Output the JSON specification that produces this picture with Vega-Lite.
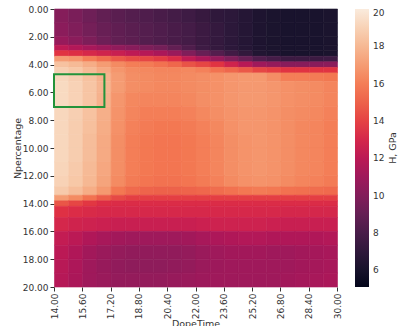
{
"$schema": "https://vega.github.io/schema/vega-lite/v6.json",
"width": 283, "height": 278,
"padding": {"left": 12, "top": 5, "right": 5, "bottom": 5},
"config": {"view": {"stroke": null}, "font": "DejaVu Sans",
 "axis": {"labelFont": "DejaVu Sans", "labelFontSize": 9, "labelColor": "#333", "tickColor": "#333", "tickSize": 4, "domain": false, "grid": false, "titleFont": "DejaVu Sans", "titleFontSize": 9.5, "titleFontWeight": "normal", "titleColor": "#333"},
 "legend": {"labelFont": "DejaVu Sans", "labelFontSize": 9, "labelColor": "#333", "titleFont": "DejaVu Sans", "titleFontSize": 9.5, "titleFontWeight": "normal", "titleColor": "#333"}},
"layer": [
{"data": {"values": [
{"t":14,"n":0,"n2":1,"h":10.1},{"t":14.8,"n":0,"n2":1,"h":9.7},{"t":15.6,"n":0,"n2":1,"h":9.3},{"t":16.4,"n":0,"n2":1,"h":8.9},{"t":17.2,"n":0,"n2":1,"h":8.6},{"t":18,"n":0,"n2":1,"h":8.4},{"t":18.8,"n":0,"n2":1,"h":8.2},{"t":19.6,"n":0,"n2":1,"h":8.0},{"t":20.4,"n":0,"n2":1,"h":7.8},{"t":21.2,"n":0,"n2":1,"h":7.6},{"t":22,"n":0,"n2":1,"h":7.3},{"t":22.8,"n":0,"n2":1,"h":7.0},{"t":23.6,"n":0,"n2":1,"h":6.9},{"t":24.4,"n":0,"n2":1,"h":6.6},{"t":25.2,"n":0,"n2":1,"h":6.3},{"t":26,"n":0,"n2":1,"h":6.2},{"t":26.8,"n":0,"n2":1,"h":6.1},{"t":27.6,"n":0,"n2":1,"h":6.1},{"t":28.4,"n":0,"n2":1,"h":6.1},{"t":29.2,"n":0,"n2":1,"h":6.2},
{"t":14,"n":1,"n2":2,"h":10.3},{"t":14.8,"n":1,"n2":2,"h":9.9},{"t":15.6,"n":1,"n2":2,"h":9.5},{"t":16.4,"n":1,"n2":2,"h":9.1},{"t":17.2,"n":1,"n2":2,"h":8.8},{"t":18,"n":1,"n2":2,"h":8.6},{"t":18.8,"n":1,"n2":2,"h":8.4},{"t":19.6,"n":1,"n2":2,"h":8.2},{"t":20.4,"n":1,"n2":2,"h":8.0},{"t":21.2,"n":1,"n2":2,"h":7.8},{"t":22,"n":1,"n2":2,"h":7.5},{"t":22.8,"n":1,"n2":2,"h":7.2},{"t":23.6,"n":1,"n2":2,"h":6.9},{"t":24.4,"n":1,"n2":2,"h":6.6},{"t":25.2,"n":1,"n2":2,"h":6.3},{"t":26,"n":1,"n2":2,"h":6.2},{"t":26.8,"n":1,"n2":2,"h":6.1},{"t":27.6,"n":1,"n2":2,"h":6.1},{"t":28.4,"n":1,"n2":2,"h":6.1},{"t":29.2,"n":1,"n2":2,"h":6.2},
{"t":14,"n":2,"n2":2.6,"h":10.7},{"t":14.8,"n":2,"n2":2.6,"h":10.3},{"t":15.6,"n":2,"n2":2.6,"h":9.8},{"t":16.4,"n":2,"n2":2.6,"h":9.3},{"t":17.2,"n":2,"n2":2.6,"h":8.9},{"t":18,"n":2,"n2":2.6,"h":8.7},{"t":18.8,"n":2,"n2":2.6,"h":8.4},{"t":19.6,"n":2,"n2":2.6,"h":8.2},{"t":20.4,"n":2,"n2":2.6,"h":8.0},{"t":21.2,"n":2,"n2":2.6,"h":7.8},{"t":22,"n":2,"n2":2.6,"h":7.5},{"t":22.8,"n":2,"n2":2.6,"h":7.2},{"t":23.6,"n":2,"n2":2.6,"h":6.9},{"t":24.4,"n":2,"n2":2.6,"h":6.6},{"t":25.2,"n":2,"n2":2.6,"h":6.3},{"t":26,"n":2,"n2":2.6,"h":6.2},{"t":26.8,"n":2,"n2":2.6,"h":6.1},{"t":27.6,"n":2,"n2":2.6,"h":6.1},{"t":28.4,"n":2,"n2":2.6,"h":6.1},{"t":29.2,"n":2,"n2":2.6,"h":6.2},
{"t":14,"n":2.6,"n2":3,"h":12.1},{"t":14.8,"n":2.6,"n2":3,"h":11.7},{"t":15.6,"n":2.6,"n2":3,"h":11.3},{"t":16.4,"n":2.6,"n2":3,"h":10.9},{"t":17.2,"n":2.6,"n2":3,"h":10.5},{"t":18,"n":2.6,"n2":3,"h":10.2},{"t":18.8,"n":2.6,"n2":3,"h":9.8},{"t":19.6,"n":2.6,"n2":3,"h":9.5},{"t":20.4,"n":2.6,"n2":3,"h":8.9},{"t":21.2,"n":2.6,"n2":3,"h":8.2},{"t":22,"n":2.6,"n2":3,"h":7.6},{"t":22.8,"n":2.6,"n2":3,"h":7.2},{"t":23.6,"n":2.6,"n2":3,"h":6.9},{"t":24.4,"n":2.6,"n2":3,"h":6.6},{"t":25.2,"n":2.6,"n2":3,"h":6.3},{"t":26,"n":2.6,"n2":3,"h":6.2},{"t":26.8,"n":2.6,"n2":3,"h":6.1},{"t":27.6,"n":2.6,"n2":3,"h":6.1},{"t":28.4,"n":2.6,"n2":3,"h":6.1},{"t":29.2,"n":2.6,"n2":3,"h":6.2},
{"t":14,"n":3,"n2":3.4,"h":13.6},{"t":14.8,"n":3,"n2":3.4,"h":13.4},{"t":15.6,"n":3,"n2":3.4,"h":13.1},{"t":16.4,"n":3,"n2":3.4,"h":12.8},{"t":17.2,"n":3,"n2":3.4,"h":12.5},{"t":18,"n":3,"n2":3.4,"h":12.1},{"t":18.8,"n":3,"n2":3.4,"h":11.8},{"t":19.6,"n":3,"n2":3.4,"h":11.4},{"t":20.4,"n":3,"n2":3.4,"h":10.8},{"t":21.2,"n":3,"n2":3.4,"h":9.9},{"t":22,"n":3,"n2":3.4,"h":9.1},{"t":22.8,"n":3,"n2":3.4,"h":8.4},{"t":23.6,"n":3,"n2":3.4,"h":7.7},{"t":24.4,"n":3,"n2":3.4,"h":7.1},{"t":25.2,"n":3,"n2":3.4,"h":6.5},{"t":26,"n":3,"n2":3.4,"h":6.3},{"t":26.8,"n":3,"n2":3.4,"h":6.1},{"t":27.6,"n":3,"n2":3.4,"h":6.1},{"t":28.4,"n":3,"n2":3.4,"h":6.1},{"t":29.2,"n":3,"n2":3.4,"h":6.2},
{"t":14,"n":3.4,"n2":3.8,"h":17.0},{"t":14.8,"n":3.4,"n2":3.8,"h":16.8},{"t":15.6,"n":3.4,"n2":3.8,"h":16.0},{"t":16.4,"n":3.4,"n2":3.8,"h":15.4},{"t":17.2,"n":3.4,"n2":3.8,"h":14.7},{"t":18,"n":3.4,"n2":3.8,"h":14.3},{"t":18.8,"n":3.4,"n2":3.8,"h":14.1},{"t":19.6,"n":3.4,"n2":3.8,"h":13.8},{"t":20.4,"n":3.4,"n2":3.8,"h":13.3},{"t":21.2,"n":3.4,"n2":3.8,"h":12.2},{"t":22,"n":3.4,"n2":3.8,"h":11.5},{"t":22.8,"n":3.4,"n2":3.8,"h":10.7},{"t":23.6,"n":3.4,"n2":3.8,"h":9.9},{"t":24.4,"n":3.4,"n2":3.8,"h":9.1},{"t":25.2,"n":3.4,"n2":3.8,"h":8.3},{"t":26,"n":3.4,"n2":3.8,"h":7.9},{"t":26.8,"n":3.4,"n2":3.8,"h":7.5},{"t":27.6,"n":3.4,"n2":3.8,"h":7.5},{"t":28.4,"n":3.4,"n2":3.8,"h":7.5},{"t":29.2,"n":3.4,"n2":3.8,"h":7.6},
{"t":14,"n":3.8,"n2":4.2,"h":18.4},{"t":14.8,"n":3.8,"n2":4.2,"h":18.1},{"t":15.6,"n":3.8,"n2":4.2,"h":17.6},{"t":16.4,"n":3.8,"n2":4.2,"h":17.0},{"t":17.2,"n":3.8,"n2":4.2,"h":16.4},{"t":18,"n":3.8,"n2":4.2,"h":16.0},{"t":18.8,"n":3.8,"n2":4.2,"h":15.9},{"t":19.6,"n":3.8,"n2":4.2,"h":15.6},{"t":20.4,"n":3.8,"n2":4.2,"h":15.2},{"t":21.2,"n":3.8,"n2":4.2,"h":14.5},{"t":22,"n":3.8,"n2":4.2,"h":14.1},{"t":22.8,"n":3.8,"n2":4.2,"h":13.6},{"t":23.6,"n":3.8,"n2":4.2,"h":12.8},{"t":24.4,"n":3.8,"n2":4.2,"h":11.9},{"t":25.2,"n":3.8,"n2":4.2,"h":11.0},{"t":26,"n":3.8,"n2":4.2,"h":10.6},{"t":26.8,"n":3.8,"n2":4.2,"h":10.2},{"t":27.6,"n":3.8,"n2":4.2,"h":10.2},{"t":28.4,"n":3.8,"n2":4.2,"h":10.2},{"t":29.2,"n":3.8,"n2":4.2,"h":10.3},
{"t":14,"n":4.2,"n2":4.6,"h":18.9},{"t":14.8,"n":4.2,"n2":4.6,"h":18.6},{"t":15.6,"n":4.2,"n2":4.6,"h":18.1},{"t":16.4,"n":4.2,"n2":4.6,"h":17.5},{"t":17.2,"n":4.2,"n2":4.6,"h":16.8},{"t":18,"n":4.2,"n2":4.6,"h":16.4},{"t":18.8,"n":4.2,"n2":4.6,"h":16.3},{"t":19.6,"n":4.2,"n2":4.6,"h":16.2},{"t":20.4,"n":4.2,"n2":4.6,"h":16.2},{"t":21.2,"n":4.2,"n2":4.6,"h":16.3},{"t":22,"n":4.2,"n2":4.6,"h":16.1},{"t":22.8,"n":4.2,"n2":4.6,"h":15.6},{"t":23.6,"n":4.2,"n2":4.6,"h":15.2},{"t":24.4,"n":4.2,"n2":4.6,"h":14.7},{"t":25.2,"n":4.2,"n2":4.6,"h":14.1},{"t":26,"n":4.2,"n2":4.6,"h":13.9},{"t":26.8,"n":4.2,"n2":4.6,"h":13.6},{"t":27.6,"n":4.2,"n2":4.6,"h":13.6},{"t":28.4,"n":4.2,"n2":4.6,"h":13.6},{"t":29.2,"n":4.2,"n2":4.6,"h":13.6},
{"t":14,"n":4.6,"n2":5.2,"h":19.2},{"t":14.8,"n":4.6,"n2":5.2,"h":18.9},{"t":15.6,"n":4.6,"n2":5.2,"h":18.4},{"t":16.4,"n":4.6,"n2":5.2,"h":17.8},{"t":17.2,"n":4.6,"n2":5.2,"h":17.0},{"t":18,"n":4.6,"n2":5.2,"h":16.5},{"t":18.8,"n":4.6,"n2":5.2,"h":16.4},{"t":19.6,"n":4.6,"n2":5.2,"h":16.3},{"t":20.4,"n":4.6,"n2":5.2,"h":16.3},{"t":21.2,"n":4.6,"n2":5.2,"h":16.4},{"t":22,"n":4.6,"n2":5.2,"h":16.5},{"t":22.8,"n":4.6,"n2":5.2,"h":16.6},{"t":23.6,"n":4.6,"n2":5.2,"h":16.8},{"t":24.4,"n":4.6,"n2":5.2,"h":16.9},{"t":25.2,"n":4.6,"n2":5.2,"h":16.9},{"t":26,"n":4.6,"n2":5.2,"h":16.5},{"t":26.8,"n":4.6,"n2":5.2,"h":16.0},{"t":27.6,"n":4.6,"n2":5.2,"h":16.0},{"t":28.4,"n":4.6,"n2":5.2,"h":15.9},{"t":29.2,"n":4.6,"n2":5.2,"h":15.8},
{"t":14,"n":5.2,"n2":6,"h":19.3},{"t":14.8,"n":5.2,"n2":6,"h":19.0},{"t":15.6,"n":5.2,"n2":6,"h":18.5},{"t":16.4,"n":5.2,"n2":6,"h":17.9},{"t":17.2,"n":5.2,"n2":6,"h":17.0},{"t":18,"n":5.2,"n2":6,"h":16.5},{"t":18.8,"n":5.2,"n2":6,"h":16.4},{"t":19.6,"n":5.2,"n2":6,"h":16.3},{"t":20.4,"n":5.2,"n2":6,"h":16.3},{"t":21.2,"n":5.2,"n2":6,"h":16.4},{"t":22,"n":5.2,"n2":6,"h":16.5},{"t":22.8,"n":5.2,"n2":6,"h":16.6},{"t":23.6,"n":5.2,"n2":6,"h":16.8},{"t":24.4,"n":5.2,"n2":6,"h":16.9},{"t":25.2,"n":5.2,"n2":6,"h":16.9},{"t":26,"n":5.2,"n2":6,"h":16.8},{"t":26.8,"n":5.2,"n2":6,"h":16.6},{"t":27.6,"n":5.2,"n2":6,"h":16.5},{"t":28.4,"n":5.2,"n2":6,"h":16.4},{"t":29.2,"n":5.2,"n2":6,"h":16.2},
{"t":14,"n":6,"n2":7,"h":19.3},{"t":14.8,"n":6,"n2":7,"h":19.0},{"t":15.6,"n":6,"n2":7,"h":18.5},{"t":16.4,"n":6,"n2":7,"h":17.8},{"t":17.2,"n":6,"n2":7,"h":16.8},{"t":18,"n":6,"n2":7,"h":16.3},{"t":18.8,"n":6,"n2":7,"h":16.2},{"t":19.6,"n":6,"n2":7,"h":16.2},{"t":20.4,"n":6,"n2":7,"h":16.2},{"t":21.2,"n":6,"n2":7,"h":16.3},{"t":22,"n":6,"n2":7,"h":16.5},{"t":22.8,"n":6,"n2":7,"h":16.6},{"t":23.6,"n":6,"n2":7,"h":16.8},{"t":24.4,"n":6,"n2":7,"h":16.9},{"t":25.2,"n":6,"n2":7,"h":16.9},{"t":26,"n":6,"n2":7,"h":16.8},{"t":26.8,"n":6,"n2":7,"h":16.6},{"t":27.6,"n":6,"n2":7,"h":16.5},{"t":28.4,"n":6,"n2":7,"h":16.4},{"t":29.2,"n":6,"n2":7,"h":16.2},
{"t":14,"n":7,"n2":8,"h":19.2},{"t":14.8,"n":7,"n2":8,"h":18.9},{"t":15.6,"n":7,"n2":8,"h":18.4},{"t":16.4,"n":7,"n2":8,"h":17.7},{"t":17.2,"n":7,"n2":8,"h":16.7},{"t":18,"n":7,"n2":8,"h":16.2},{"t":18.8,"n":7,"n2":8,"h":16.0},{"t":19.6,"n":7,"n2":8,"h":16.0},{"t":20.4,"n":7,"n2":8,"h":16.0},{"t":21.2,"n":7,"n2":8,"h":16.1},{"t":22,"n":7,"n2":8,"h":16.3},{"t":22.8,"n":7,"n2":8,"h":16.5},{"t":23.6,"n":7,"n2":8,"h":16.7},{"t":24.4,"n":7,"n2":8,"h":16.8},{"t":25.2,"n":7,"n2":8,"h":16.8},{"t":26,"n":7,"n2":8,"h":16.7},{"t":26.8,"n":7,"n2":8,"h":16.5},{"t":27.6,"n":7,"n2":8,"h":16.4},{"t":28.4,"n":7,"n2":8,"h":16.3},{"t":29.2,"n":7,"n2":8,"h":16.1},
{"t":14,"n":8,"n2":9,"h":19.2},{"t":14.8,"n":8,"n2":9,"h":18.8},{"t":15.6,"n":8,"n2":9,"h":18.3},{"t":16.4,"n":8,"n2":9,"h":17.6},{"t":17.2,"n":8,"n2":9,"h":16.6},{"t":18,"n":8,"n2":9,"h":16.1},{"t":18.8,"n":8,"n2":9,"h":15.9},{"t":19.6,"n":8,"n2":9,"h":15.8},{"t":20.4,"n":8,"n2":9,"h":15.8},{"t":21.2,"n":8,"n2":9,"h":15.9},{"t":22,"n":8,"n2":9,"h":16.1},{"t":22.8,"n":8,"n2":9,"h":16.3},{"t":23.6,"n":8,"n2":9,"h":16.6},{"t":24.4,"n":8,"n2":9,"h":16.8},{"t":25.2,"n":8,"n2":9,"h":16.8},{"t":26,"n":8,"n2":9,"h":16.7},{"t":26.8,"n":8,"n2":9,"h":16.5},{"t":27.6,"n":8,"n2":9,"h":16.3},{"t":28.4,"n":8,"n2":9,"h":16.2},{"t":29.2,"n":8,"n2":9,"h":16.0},
{"t":14,"n":9,"n2":10,"h":19.2},{"t":14.8,"n":9,"n2":10,"h":18.8},{"t":15.6,"n":9,"n2":10,"h":18.2},{"t":16.4,"n":9,"n2":10,"h":17.5},{"t":17.2,"n":9,"n2":10,"h":16.5},{"t":18,"n":9,"n2":10,"h":16.0},{"t":18.8,"n":9,"n2":10,"h":15.8},{"t":19.6,"n":9,"n2":10,"h":15.7},{"t":20.4,"n":9,"n2":10,"h":15.7},{"t":21.2,"n":9,"n2":10,"h":15.8},{"t":22,"n":9,"n2":10,"h":16.0},{"t":22.8,"n":9,"n2":10,"h":16.2},{"t":23.6,"n":9,"n2":10,"h":16.5},{"t":24.4,"n":9,"n2":10,"h":16.7},{"t":25.2,"n":9,"n2":10,"h":16.8},{"t":26,"n":9,"n2":10,"h":16.7},{"t":26.8,"n":9,"n2":10,"h":16.5},{"t":27.6,"n":9,"n2":10,"h":16.3},{"t":28.4,"n":9,"n2":10,"h":16.2},{"t":29.2,"n":9,"n2":10,"h":16.0},
{"t":14,"n":10,"n2":11,"h":19.2},{"t":14.8,"n":10,"n2":11,"h":18.8},{"t":15.6,"n":10,"n2":11,"h":18.2},{"t":16.4,"n":10,"n2":11,"h":17.5},{"t":17.2,"n":10,"n2":11,"h":16.5},{"t":18,"n":10,"n2":11,"h":16.0},{"t":18.8,"n":10,"n2":11,"h":15.8},{"t":19.6,"n":10,"n2":11,"h":15.7},{"t":20.4,"n":10,"n2":11,"h":15.7},{"t":21.2,"n":10,"n2":11,"h":15.8},{"t":22,"n":10,"n2":11,"h":16.0},{"t":22.8,"n":10,"n2":11,"h":16.2},{"t":23.6,"n":10,"n2":11,"h":16.5},{"t":24.4,"n":10,"n2":11,"h":16.7},{"t":25.2,"n":10,"n2":11,"h":16.8},{"t":26,"n":10,"n2":11,"h":16.7},{"t":26.8,"n":10,"n2":11,"h":16.5},{"t":27.6,"n":10,"n2":11,"h":16.3},{"t":28.4,"n":10,"n2":11,"h":16.2},{"t":29.2,"n":10,"n2":11,"h":16.0},
{"t":14,"n":11,"n2":12,"h":19.1},{"t":14.8,"n":11,"n2":12,"h":18.7},{"t":15.6,"n":11,"n2":12,"h":18.1},{"t":16.4,"n":11,"n2":12,"h":17.4},{"t":17.2,"n":11,"n2":12,"h":16.5},{"t":18,"n":11,"n2":12,"h":16.0},{"t":18.8,"n":11,"n2":12,"h":15.8},{"t":19.6,"n":11,"n2":12,"h":15.7},{"t":20.4,"n":11,"n2":12,"h":15.7},{"t":21.2,"n":11,"n2":12,"h":15.8},{"t":22,"n":11,"n2":12,"h":16.0},{"t":22.8,"n":11,"n2":12,"h":16.2},{"t":23.6,"n":11,"n2":12,"h":16.5},{"t":24.4,"n":11,"n2":12,"h":16.7},{"t":25.2,"n":11,"n2":12,"h":16.8},{"t":26,"n":11,"n2":12,"h":16.7},{"t":26.8,"n":11,"n2":12,"h":16.5},{"t":27.6,"n":11,"n2":12,"h":16.3},{"t":28.4,"n":11,"n2":12,"h":16.2},{"t":29.2,"n":11,"n2":12,"h":16.0},
{"t":14,"n":12,"n2":12.8,"h":19.0},{"t":14.8,"n":12,"n2":12.8,"h":18.6},{"t":15.6,"n":12,"n2":12.8,"h":18.0},{"t":16.4,"n":12,"n2":12.8,"h":17.3},{"t":17.2,"n":12,"n2":12.8,"h":16.4},{"t":18,"n":12,"n2":12.8,"h":15.9},{"t":18.8,"n":12,"n2":12.8,"h":15.7},{"t":19.6,"n":12,"n2":12.8,"h":15.6},{"t":20.4,"n":12,"n2":12.8,"h":15.6},{"t":21.2,"n":12,"n2":12.8,"h":15.7},{"t":22,"n":12,"n2":12.8,"h":15.9},{"t":22.8,"n":12,"n2":12.8,"h":16.1},{"t":23.6,"n":12,"n2":12.8,"h":16.4},{"t":24.4,"n":12,"n2":12.8,"h":16.6},{"t":25.2,"n":12,"n2":12.8,"h":16.7},{"t":26,"n":12,"n2":12.8,"h":16.6},{"t":26.8,"n":12,"n2":12.8,"h":16.4},{"t":27.6,"n":12,"n2":12.8,"h":16.2},{"t":28.4,"n":12,"n2":12.8,"h":16.1},{"t":29.2,"n":12,"n2":12.8,"h":15.9},
{"t":14,"n":12.8,"n2":13.4,"h":18.7},{"t":14.8,"n":12.8,"n2":13.4,"h":18.2},{"t":15.6,"n":12.8,"n2":13.4,"h":17.6},{"t":16.4,"n":12.8,"n2":13.4,"h":16.9},{"t":17.2,"n":12.8,"n2":13.4,"h":15.8},{"t":18,"n":12.8,"n2":13.4,"h":15.3},{"t":18.8,"n":12.8,"n2":13.4,"h":15.1},{"t":19.6,"n":12.8,"n2":13.4,"h":15.0},{"t":20.4,"n":12.8,"n2":13.4,"h":15.0},{"t":21.2,"n":12.8,"n2":13.4,"h":15.1},{"t":22,"n":12.8,"n2":13.4,"h":15.2},{"t":22.8,"n":12.8,"n2":13.4,"h":15.4},{"t":23.6,"n":12.8,"n2":13.4,"h":15.6},{"t":24.4,"n":12.8,"n2":13.4,"h":15.8},{"t":25.2,"n":12.8,"n2":13.4,"h":15.9},{"t":26,"n":12.8,"n2":13.4,"h":15.8},{"t":26.8,"n":12.8,"n2":13.4,"h":15.6},{"t":27.6,"n":12.8,"n2":13.4,"h":15.5},{"t":28.4,"n":12.8,"n2":13.4,"h":15.4},{"t":29.2,"n":12.8,"n2":13.4,"h":15.3},
{"t":14,"n":13.4,"n2":13.8,"h":17.0},{"t":14.8,"n":13.4,"n2":13.8,"h":16.4},{"t":15.6,"n":13.4,"n2":13.8,"h":15.6},{"t":16.4,"n":13.4,"n2":13.8,"h":14.8},{"t":17.2,"n":13.4,"n2":13.8,"h":14.2},{"t":18,"n":13.4,"n2":13.8,"h":13.9},{"t":18.8,"n":13.4,"n2":13.8,"h":13.9},{"t":19.6,"n":13.4,"n2":13.8,"h":13.9},{"t":20.4,"n":13.4,"n2":13.8,"h":13.9},{"t":21.2,"n":13.4,"n2":13.8,"h":13.9},{"t":22,"n":13.4,"n2":13.8,"h":13.9},{"t":22.8,"n":13.4,"n2":13.8,"h":13.9},{"t":23.6,"n":13.4,"n2":13.8,"h":13.9},{"t":24.4,"n":13.4,"n2":13.8,"h":13.9},{"t":25.2,"n":13.4,"n2":13.8,"h":13.9},{"t":26,"n":13.4,"n2":13.8,"h":13.9},{"t":26.8,"n":13.4,"n2":13.8,"h":13.9},{"t":27.6,"n":13.4,"n2":13.8,"h":13.9},{"t":28.4,"n":13.4,"n2":13.8,"h":13.9},{"t":29.2,"n":13.4,"n2":13.8,"h":13.9},
{"t":14,"n":13.8,"n2":14.2,"h":14.6},{"t":14.8,"n":13.8,"n2":14.2,"h":14.1},{"t":15.6,"n":13.8,"n2":14.2,"h":13.7},{"t":16.4,"n":13.8,"n2":14.2,"h":13.4},{"t":17.2,"n":13.8,"n2":14.2,"h":13.3},{"t":18,"n":13.8,"n2":14.2,"h":13.3},{"t":18.8,"n":13.8,"n2":14.2,"h":13.3},{"t":19.6,"n":13.8,"n2":14.2,"h":13.3},{"t":20.4,"n":13.8,"n2":14.2,"h":13.3},{"t":21.2,"n":13.8,"n2":14.2,"h":13.3},{"t":22,"n":13.8,"n2":14.2,"h":13.3},{"t":22.8,"n":13.8,"n2":14.2,"h":13.3},{"t":23.6,"n":13.8,"n2":14.2,"h":13.3},{"t":24.4,"n":13.8,"n2":14.2,"h":13.3},{"t":25.2,"n":13.8,"n2":14.2,"h":13.3},{"t":26,"n":13.8,"n2":14.2,"h":13.3},{"t":26.8,"n":13.8,"n2":14.2,"h":13.3},{"t":27.6,"n":13.8,"n2":14.2,"h":13.3},{"t":28.4,"n":13.8,"n2":14.2,"h":13.3},{"t":29.2,"n":13.8,"n2":14.2,"h":13.3},
{"t":14,"n":14.2,"n2":15,"h":13.5},{"t":14.8,"n":14.2,"n2":15,"h":13.3},{"t":15.6,"n":14.2,"n2":15,"h":13.2},{"t":16.4,"n":14.2,"n2":15,"h":13.1},{"t":17.2,"n":14.2,"n2":15,"h":13.1},{"t":18,"n":14.2,"n2":15,"h":13.1},{"t":18.8,"n":14.2,"n2":15,"h":13.1},{"t":19.6,"n":14.2,"n2":15,"h":13.1},{"t":20.4,"n":14.2,"n2":15,"h":13.1},{"t":21.2,"n":14.2,"n2":15,"h":13.1},{"t":22,"n":14.2,"n2":15,"h":13.1},{"t":22.8,"n":14.2,"n2":15,"h":13.1},{"t":23.6,"n":14.2,"n2":15,"h":13.1},{"t":24.4,"n":14.2,"n2":15,"h":13.1},{"t":25.2,"n":14.2,"n2":15,"h":13.1},{"t":26,"n":14.2,"n2":15,"h":13.1},{"t":26.8,"n":14.2,"n2":15,"h":13.0},{"t":27.6,"n":14.2,"n2":15,"h":13.0},{"t":28.4,"n":14.2,"n2":15,"h":13.0},{"t":29.2,"n":14.2,"n2":15,"h":13.0},
{"t":14,"n":15,"n2":16,"h":13.0},{"t":14.8,"n":15,"n2":16,"h":12.8},{"t":15.6,"n":15,"n2":16,"h":12.7},{"t":16.4,"n":15,"n2":16,"h":12.6},{"t":17.2,"n":15,"n2":16,"h":12.5},{"t":18,"n":15,"n2":16,"h":12.5},{"t":18.8,"n":15,"n2":16,"h":12.5},{"t":19.6,"n":15,"n2":16,"h":12.5},{"t":20.4,"n":15,"n2":16,"h":12.5},{"t":21.2,"n":15,"n2":16,"h":12.5},{"t":22,"n":15,"n2":16,"h":12.6},{"t":22.8,"n":15,"n2":16,"h":12.7},{"t":23.6,"n":15,"n2":16,"h":12.7},{"t":24.4,"n":15,"n2":16,"h":12.7},{"t":25.2,"n":15,"n2":16,"h":12.7},{"t":26,"n":15,"n2":16,"h":12.6},{"t":26.8,"n":15,"n2":16,"h":12.5},{"t":27.6,"n":15,"n2":16,"h":12.5},{"t":28.4,"n":15,"n2":16,"h":12.5},{"t":29.2,"n":15,"n2":16,"h":12.5},
{"t":14,"n":16,"n2":17,"h":12.3},{"t":14.8,"n":16,"n2":17,"h":12.0},{"t":15.6,"n":16,"n2":17,"h":11.6},{"t":16.4,"n":16,"n2":17,"h":11.3},{"t":17.2,"n":16,"n2":17,"h":11.1},{"t":18,"n":16,"n2":17,"h":11.0},{"t":18.8,"n":16,"n2":17,"h":11.0},{"t":19.6,"n":16,"n2":17,"h":11.0},{"t":20.4,"n":16,"n2":17,"h":11.0},{"t":21.2,"n":16,"n2":17,"h":11.1},{"t":22,"n":16,"n2":17,"h":11.3},{"t":22.8,"n":16,"n2":17,"h":11.5},{"t":23.6,"n":16,"n2":17,"h":11.6},{"t":24.4,"n":16,"n2":17,"h":11.7},{"t":25.2,"n":16,"n2":17,"h":11.7},{"t":26,"n":16,"n2":17,"h":11.6},{"t":26.8,"n":16,"n2":17,"h":11.6},{"t":27.6,"n":16,"n2":17,"h":11.6},{"t":28.4,"n":16,"n2":17,"h":11.6},{"t":29.2,"n":16,"n2":17,"h":11.7},
{"t":14,"n":17,"n2":18,"h":12.0},{"t":14.8,"n":17,"n2":18,"h":11.6},{"t":15.6,"n":17,"n2":18,"h":11.1},{"t":16.4,"n":17,"n2":18,"h":10.8},{"t":17.2,"n":17,"n2":18,"h":10.6},{"t":18,"n":17,"n2":18,"h":10.5},{"t":18.8,"n":17,"n2":18,"h":10.5},{"t":19.6,"n":17,"n2":18,"h":10.5},{"t":20.4,"n":17,"n2":18,"h":10.5},{"t":21.2,"n":17,"n2":18,"h":10.6},{"t":22,"n":17,"n2":18,"h":10.8},{"t":22.8,"n":17,"n2":18,"h":11.0},{"t":23.6,"n":17,"n2":18,"h":11.1},{"t":24.4,"n":17,"n2":18,"h":11.1},{"t":25.2,"n":17,"n2":18,"h":11.1},{"t":26,"n":17,"n2":18,"h":11.0},{"t":26.8,"n":17,"n2":18,"h":11.0},{"t":27.6,"n":17,"n2":18,"h":11.1},{"t":28.4,"n":17,"n2":18,"h":11.2},{"t":29.2,"n":17,"n2":18,"h":11.3},
{"t":14,"n":18,"n2":19,"h":11.9},{"t":14.8,"n":18,"n2":19,"h":11.5},{"t":15.6,"n":18,"n2":19,"h":11.0},{"t":16.4,"n":18,"n2":19,"h":10.7},{"t":17.2,"n":18,"n2":19,"h":10.5},{"t":18,"n":18,"n2":19,"h":10.4},{"t":18.8,"n":18,"n2":19,"h":10.4},{"t":19.6,"n":18,"n2":19,"h":10.4},{"t":20.4,"n":18,"n2":19,"h":10.5},{"t":21.2,"n":18,"n2":19,"h":10.6},{"t":22,"n":18,"n2":19,"h":10.8},{"t":22.8,"n":18,"n2":19,"h":10.9},{"t":23.6,"n":18,"n2":19,"h":11.0},{"t":24.4,"n":18,"n2":19,"h":11.0},{"t":25.2,"n":18,"n2":19,"h":11.0},{"t":26,"n":18,"n2":19,"h":11.0},{"t":26.8,"n":18,"n2":19,"h":11.0},{"t":27.6,"n":18,"n2":19,"h":11.1},{"t":28.4,"n":18,"n2":19,"h":11.2},{"t":29.2,"n":18,"n2":19,"h":11.3},
{"t":14,"n":19,"n2":20,"h":11.8},{"t":14.8,"n":19,"n2":20,"h":11.4},{"t":15.6,"n":19,"n2":20,"h":11.0},{"t":16.4,"n":19,"n2":20,"h":10.8},{"t":17.2,"n":19,"n2":20,"h":10.6},{"t":18,"n":19,"n2":20,"h":10.6},{"t":18.8,"n":19,"n2":20,"h":10.6},{"t":19.6,"n":19,"n2":20,"h":10.6},{"t":20.4,"n":19,"n2":20,"h":10.7},{"t":21.2,"n":19,"n2":20,"h":10.8},{"t":22,"n":19,"n2":20,"h":10.9},{"t":22.8,"n":19,"n2":20,"h":11.0},{"t":23.6,"n":19,"n2":20,"h":11.0},{"t":24.4,"n":19,"n2":20,"h":11.0},{"t":25.2,"n":19,"n2":20,"h":11.0},{"t":26,"n":19,"n2":20,"h":11.0},{"t":26.8,"n":19,"n2":20,"h":11.1},{"t":27.6,"n":19,"n2":20,"h":11.2},{"t":28.4,"n":19,"n2":20,"h":11.3},{"t":29.2,"n":19,"n2":20,"h":11.4}
]},
 "mark": {"type": "rect", "strokeWidth": 0.6, "stroke": {"expr": "scale('color', datum.h)"}},
 "encoding": {
  "x": {"field": "t", "type": "quantitative", "bin": {"binned": true, "step": 0.8}, "scale": {"domain": [14, 30], "nice": false, "zero": false}, "title": "DopeTime",
        "axis": {"values": [14, 15.6, 17.2, 18.8, 20.4, 22, 23.6, 25.2, 26.8, 28.4, 30], "format": ".2f", "labelAngle": -90, "labelPadding": 2, "titlePadding": 0, "labelFlush": false, "labelOverlap": false}},
  "y": {"field": "n", "type": "quantitative", "scale": {"domain": [0, 20], "reverse": true, "nice": false, "zero": false}, "title": "Npercentage",
        "axis": {"values": [0, 2, 4, 6, 8, 10, 12, 14, 16, 18, 20], "format": ".2f", "labelPadding": 2, "titlePadding": 0, "labelFlush": false, "labelOverlap": false}},
  "y2": {"field": "n2"},
  "color": {"field": "h", "type": "quantitative", "title": "H, GPa",
     "scale": {"domain": [5.1, 20], "range": ["#03051a", "#35193e", "#701f57", "#ad1759", "#e13342", "#f37651", "#f6b48f", "#faebdd"]},
     "legend": {"type": "gradient", "direction": "vertical", "values": [6, 8, 10, 12, 14, 16, 18, 20], "gradientLength": 278, "gradientThickness": 14, "offset": 18, "labelOffset": 4, "titleOrient": "right", "titleAnchor": "middle", "titlePadding": 6, "gradientStrokeWidth": 0,
       "encode": {"title": {"update": {"angle": {"value": -90}, "dy": {"value": 8}}}}}}
 }},
{"data": {"values": [{"t0": 14, "t1": 16.85, "n0": 4.7, "n1": 7.05}]},
 "mark": {"type": "rect", "fill": null, "fillOpacity": 0, "stroke": "#23933a", "strokeWidth": 2},
 "encoding": {
  "x": {"field": "t0", "type": "quantitative", "title": "DopeTime",
        "axis": {"values": [14, 15.6, 17.2, 18.8, 20.4, 22, 23.6, 25.2, 26.8, 28.4, 30], "format": ".2f", "labelAngle": -90, "labelPadding": 2, "titlePadding": 0, "labelFlush": false, "labelOverlap": false}},
  "x2": {"field": "t1"},
  "y": {"field": "n0", "type": "quantitative", "title": "Npercentage",
        "axis": {"values": [0, 2, 4, 6, 8, 10, 12, 14, 16, 18, 20], "format": ".2f", "labelPadding": 2, "titlePadding": 0, "labelFlush": false, "labelOverlap": false}},
  "y2": {"field": "n1"}}}
]
}
